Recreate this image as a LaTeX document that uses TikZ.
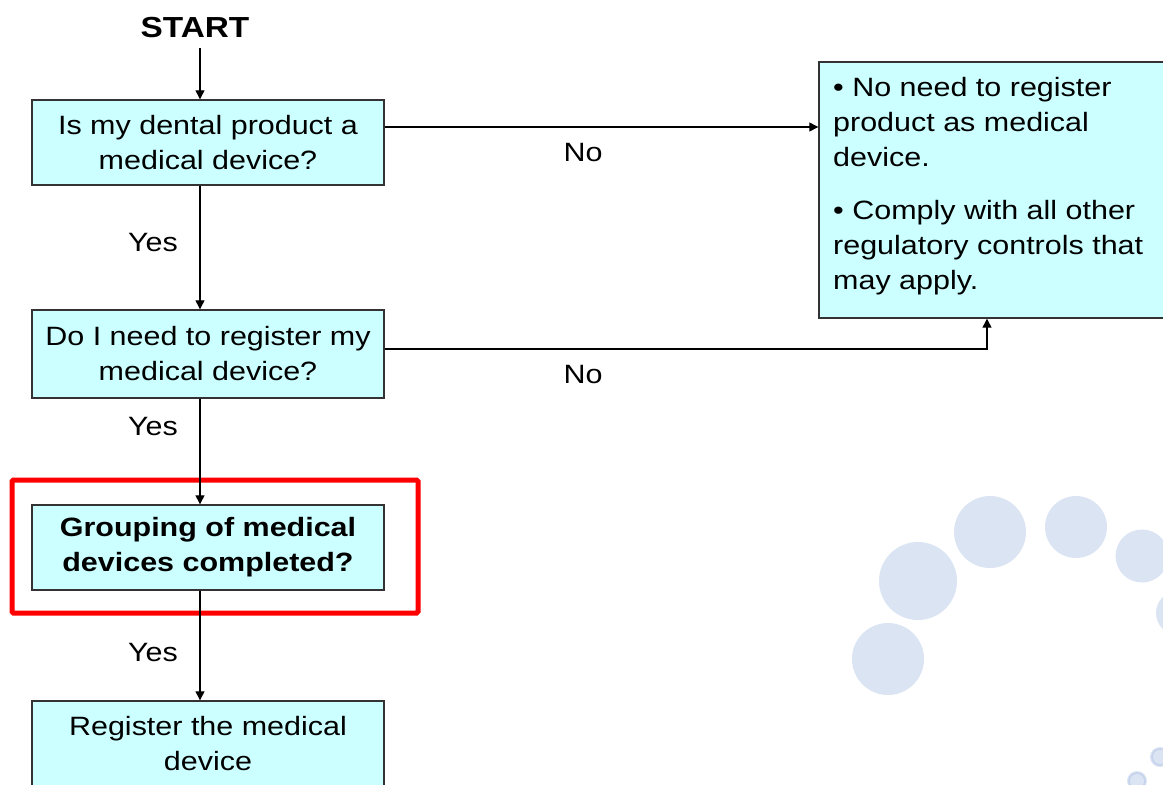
\documentclass[tikz,border=0pt]{standalone}
\usepackage{fontspec}
\setmainfont{Liberation Sans}[FakeStretch=1.15]
\usetikzlibrary{arrows.meta}
\definecolor{boxfill}{RGB}{204,255,255}
\definecolor{boxline}{RGB}{51,51,51}
\definecolor{dotblue}{RGB}{219,228,243}
\definecolor{dotdark}{RGB}{196,210,235}
\tikzset{
  flowbox/.style={draw=boxline, fill=boxfill, line width=1.4pt, minimum width=352pt, inner sep=0pt, align=center, font=\fontsize{26.5}{35}\selectfont},
  lbl/.style={font=\fontsize{26.5}{32}\selectfont, inner sep=0pt},
  arr/.style={line width=1.3pt, -{Triangle[length=9pt,width=9pt]}},
  hilite/.style={draw=red, line width=5pt, rounded corners=1.5pt, minimum width=406pt, minimum height=133pt},
  dot/.style={fill=dotblue, draw=none}
}
\begin{document}
\begin{tikzpicture}[x=1pt,y=-1pt]
\useasboundingbox (0,0) rectangle (1163,785);
% background dots
\fill[dotblue] (888,659) circle (36);
\fill[dotblue] (918,581) circle (39);
\fill[dotblue] (990,532) circle (36);
\fill[dotblue] (1076,527) circle (31);
\fill[dotblue] (1142,556) circle (26.5);
\fill[dotblue] (1178,613) circle (22);
\fill[dotblue] (1160,757) circle (10);
\fill[dotblue] (1137,781) circle (10);
\draw[dotdark, line width=1.5pt] (1160,757) circle (8);
\draw[dotdark, line width=1.5pt] (1137,781) circle (8);
% nodes
\node[font=\bfseries\fontsize{29}{32}\selectfont, inner sep=0pt] (start) at (195,28) {START};
\node[flowbox, minimum height=85pt] (b1) at (208,142.5) {Is my dental product a\\medical device?};
\node[flowbox, minimum height=88pt] (b2) at (208,354) {Do I need to register my\\medical device?};
\node[flowbox, minimum height=85pt, font=\bfseries\fontsize{26.5}{35}\selectfont] (b3) at (208,547.5) {Grouping of medical\\devices completed?};
\node[flowbox, minimum height=85pt] (b4) at (208,743.5) {Register the medical\\device};
\node[hilite] (hl) at (215,546.5) {};
\node[draw=boxline, fill=boxfill, line width=1.4pt, minimum width=351pt, minimum height=256pt, inner sep=0pt] (rb) at (994.5,190) {};
\node[anchor=north west, inner sep=0pt, align=left, font=\fontsize{26.5}{35}\selectfont] (rbt) at (833,77) {\textbullet{} No need to register\\product as medical\\device.\\[18pt]\textbullet{} Comply with all other\\regulatory controls that\\may apply.};
% connectors
\coordinate (s0) at (200,48);
\draw[arr] (s0) -- ([xshift=-8pt]b1.north);
\draw[arr] ([xshift=-8pt]b1.south) -- ([xshift=-8pt]b2.north);
\draw[arr] ([xshift=-8pt]b2.south) -- ([xshift=-8pt]b3.north);
\draw[arr] ([xshift=-8pt]b3.south) -- ([xshift=-8pt]b4.north);
\draw[arr] ([yshift=15.5pt]b1.east) -- ([yshift=15.5pt]b1.east -| rb.west);
\draw[arr] ([yshift=5pt]b2.east) -| ([xshift=-7.5pt]rb.south);
% labels
\node[lbl] (y1) at (153,243) {Yes};
\node[lbl] (y2) at (153,427) {Yes};
\node[lbl] (y3) at (153,653) {Yes};
\node[lbl] (n1) at (583,153) {No};
\node[lbl] (n2) at (583,375) {No};
\end{tikzpicture}
\end{document}
